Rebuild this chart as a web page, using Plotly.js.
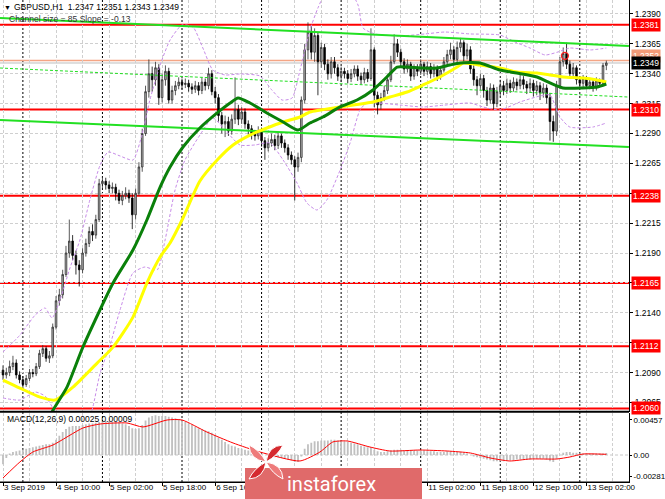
<!DOCTYPE html>
<html><head><meta charset="utf-8">
<script src="https://cdn.plot.ly/plotly-3.0.1.min.js"></script>
<style>html,body{margin:0;padding:0;background:#fff;overflow:hidden}#chart{width:665px;height:499px}</style>
</head><body><div id="chart"></div>
<script>
// ---------- DATA ----------
const barOpen = [1.2092,1.2088,1.2090,1.2095,1.2098,1.2088,1.2084,1.2080,1.2085,1.2090,
1.2089,1.2095,1.2106,1.2110,1.2102,1.2104,1.2128,1.2150,1.2155,1.2172,
1.2190,1.2200,1.2188,1.2180,1.2176,1.2190,1.2198,1.2208,1.2205,1.2218,
1.2248,1.2250,1.2247,1.2244,1.2245,1.2240,1.2234,1.2238,1.2240,1.2236,
1.2222,1.2240,1.2262,1.2290,1.2325,1.2340,1.2335,1.2345,1.2320,1.2335,
1.2342,1.2318,1.2326,1.2330,1.2333,1.2331,1.2332,1.2329,1.2327,1.2330,
1.2326,1.2333,1.2330,1.2340,1.2325,1.2320,1.2305,1.2298,1.2300,1.2292,
1.2302,1.2310,1.2302,1.2308,1.2298,1.2294,1.2290,1.2288,1.2292,1.2284,
1.2278,1.2282,1.2285,1.2280,1.2288,1.2282,1.2278,1.2272,1.2268,1.2262,
1.2270,1.2318,1.2360,1.2375,1.2358,1.2372,1.2350,1.2362,1.2348,1.2340,
1.2350,1.2345,1.2338,1.2342,1.2340,1.2336,1.2340,1.2344,1.2338,1.2335,
1.2341,1.2336,1.2360,1.2322,1.2314,1.2320,1.2326,1.2335,1.2350,1.2365,
1.2358,1.2350,1.2344,1.2348,1.2338,1.2345,1.2342,1.2348,1.2342,1.2346,
1.2340,1.2344,1.2338,1.2343,1.2350,1.2356,1.2360,1.2352,1.2362,1.2366,
1.2355,1.2360,1.2344,1.2335,1.2330,1.2336,1.2326,1.2318,1.2328,1.2315,
1.2325,1.2330,1.2326,1.2332,1.2328,1.2333,1.2330,1.2335,1.2331,1.2328,
1.2332,1.2326,1.2330,1.2324,1.2328,1.2320,1.2300,1.2292,1.2330,1.2350,
1.2357,1.2348,1.2340,1.2345,1.2335,1.2332,1.2336,1.2330,1.2333,1.2328,
1.2334,1.2332,1.2347];
const barHigh = [1.2096,1.2094,1.2100,1.2104,1.2101,1.2091,1.2087,1.2088,1.2093,1.2093,
1.2098,1.2109,1.2113,1.2112,1.2108,1.2131,1.2154,1.2160,1.2176,1.2196,
1.2218,1.2205,1.2192,1.2184,1.2194,1.2202,1.2212,1.2214,1.2222,1.2252,
1.2254,1.2253,1.2250,1.2249,1.2248,1.2243,1.2242,1.2245,1.2243,1.2240,
1.2244,1.2266,1.2294,1.2330,1.2352,1.2346,1.2350,1.2348,1.2340,1.2347,
1.2345,1.2330,1.2334,1.2337,1.2336,1.2336,1.2335,1.2332,1.2334,1.2333,
1.2337,1.2336,1.2345,1.2343,1.2329,1.2323,1.2308,1.2305,1.2304,1.2306,
1.2337,1.2314,1.2312,1.2311,1.2301,1.2297,1.2293,1.2296,1.2295,1.2287,
1.2286,1.2290,1.2289,1.2291,1.2290,1.2285,1.2281,1.2275,1.2271,1.2274,
1.2321,1.2365,1.2383,1.2380,1.2378,1.2375,1.2366,1.2365,1.2352,1.2354,
1.2354,1.2348,1.2346,1.2345,1.2343,1.2344,1.2347,1.2347,1.2341,1.2345,
1.2344,1.2378,1.2362,1.2325,1.2324,1.2330,1.2339,1.2355,1.2373,1.2369,
1.2361,1.2353,1.2352,1.2350,1.2348,1.2348,1.2352,1.2350,1.2350,1.2349,
1.2348,1.2347,1.2346,1.2354,1.2360,1.2366,1.2363,1.2367,1.2370,1.2368,
1.2365,1.2363,1.2347,1.2338,1.2340,1.2339,1.2329,1.2332,1.2331,1.2329,
1.2335,1.2334,1.2336,1.2335,1.2337,1.2336,1.2339,1.2338,1.2334,1.2336,
1.2335,1.2334,1.2333,1.2332,1.2331,1.2324,1.2305,1.2334,1.2354,1.2362,
1.2366,1.2351,1.2349,1.2347,1.2338,1.2339,1.2338,1.2336,1.2335,1.2337,
1.2336,1.2349,1.2351];
const barLow = [1.2084,1.2085,1.2087,1.2092,1.2085,1.2081,1.2076,1.2078,1.2083,1.2086,
1.2087,1.2093,1.2103,1.2099,1.2098,1.2102,1.2126,1.2146,1.2152,1.2170,
1.2186,1.2184,1.2172,1.2162,1.2173,1.2187,1.2195,1.2200,1.2202,1.2216,
1.2244,1.2243,1.2240,1.2240,1.2234,1.2231,1.2230,1.2235,1.2232,1.2210,
1.2218,1.2238,1.2258,1.2288,1.2320,1.2325,1.2330,1.2314,1.2316,1.2330,
1.2315,1.2315,1.2322,1.2327,1.2327,1.2328,1.2325,1.2323,1.2324,1.2322,
1.2323,1.2326,1.2327,1.2322,1.2315,1.2300,1.2290,1.2287,1.2288,1.2289,
1.2298,1.2297,1.2298,1.2294,1.2289,1.2285,1.2284,1.2285,1.2279,1.2268,
1.2275,1.2279,1.2276,1.2277,1.2278,1.2274,1.2268,1.2264,1.2234,1.2258,
1.2266,1.2315,1.2352,1.2352,1.2350,1.2322,1.2345,1.2343,1.2335,1.2336,
1.2340,1.2334,1.2333,1.2336,1.2332,1.2333,1.2337,1.2334,1.2331,1.2332,
1.2333,1.2334,1.2312,1.2306,1.2310,1.2317,1.2323,1.2333,1.2348,1.2354,
1.2346,1.2340,1.2341,1.2334,1.2335,1.2338,1.2339,1.2338,1.2339,1.2336,
1.2337,1.2334,1.2335,1.2341,1.2347,1.2352,1.2348,1.2349,1.2358,1.2350,
1.2352,1.2340,1.2330,1.2322,1.2326,1.2320,1.2313,1.2315,1.2310,1.2312,
1.2321,1.2322,1.2323,1.2324,1.2325,1.2326,1.2327,1.2327,1.2323,1.2324,
1.2321,1.2322,1.2318,1.2320,1.2315,1.2284,1.2283,1.2288,1.2327,1.2346,
1.2344,1.2336,1.2337,1.2331,1.2328,1.2329,1.2327,1.2327,1.2325,1.2326,
1.2329,1.2330,1.2343];
const barClose = [1.2088,1.2090,1.2095,1.2098,1.2088,1.2084,1.2080,1.2085,1.2090,1.2089,
1.2095,1.2106,1.2110,1.2102,1.2104,1.2128,1.2150,1.2155,1.2172,1.2190,
1.2200,1.2188,1.2180,1.2176,1.2190,1.2198,1.2208,1.2205,1.2218,1.2248,
1.2250,1.2247,1.2244,1.2245,1.2240,1.2234,1.2238,1.2240,1.2236,1.2222,
1.2240,1.2262,1.2290,1.2325,1.2340,1.2335,1.2345,1.2320,1.2335,1.2342,
1.2318,1.2326,1.2330,1.2333,1.2331,1.2332,1.2329,1.2327,1.2330,1.2326,
1.2333,1.2330,1.2340,1.2325,1.2320,1.2305,1.2298,1.2300,1.2292,1.2302,
1.2310,1.2302,1.2308,1.2298,1.2294,1.2290,1.2288,1.2292,1.2284,1.2278,
1.2282,1.2285,1.2280,1.2288,1.2282,1.2278,1.2272,1.2268,1.2262,1.2270,
1.2318,1.2360,1.2375,1.2358,1.2372,1.2350,1.2362,1.2348,1.2340,1.2350,
1.2345,1.2338,1.2342,1.2340,1.2336,1.2340,1.2344,1.2338,1.2335,1.2341,
1.2336,1.2360,1.2322,1.2314,1.2320,1.2326,1.2335,1.2350,1.2365,1.2358,
1.2350,1.2344,1.2348,1.2338,1.2345,1.2342,1.2348,1.2342,1.2346,1.2340,
1.2344,1.2338,1.2343,1.2350,1.2356,1.2360,1.2352,1.2362,1.2366,1.2355,
1.2360,1.2344,1.2335,1.2330,1.2336,1.2326,1.2318,1.2328,1.2315,1.2325,
1.2330,1.2326,1.2332,1.2328,1.2333,1.2330,1.2335,1.2331,1.2328,1.2332,
1.2326,1.2330,1.2324,1.2328,1.2320,1.2300,1.2292,1.2330,1.2350,1.2357,
1.2348,1.2340,1.2345,1.2335,1.2332,1.2336,1.2330,1.2333,1.2328,1.2334,
1.2332,1.2347,1.2349];
const macdHist = [-0.0012,-0.0004,0.0002,0.0004,0.0005,0.0006,0.0007,0.0008,0.0009,0.0010,
0.0011,0.0012,0.0013,0.0014,0.0014,0.0016,0.0020,0.0025,0.0030,0.0034,
0.0037,0.0038,0.0038,0.0038,0.0039,0.0040,0.0041,0.0041,0.0042,0.0043,
0.0044,0.0044,0.0044,0.0043,0.0043,0.0042,0.0041,0.0040,0.0038,0.0035,
0.0034,0.0035,0.0039,0.0045,0.0049,0.0051,0.0052,0.0051,0.0051,0.0051,
0.0050,0.0049,0.0048,0.0047,0.0045,0.0043,0.0041,0.0039,0.0037,0.0035,
0.0034,0.0032,0.0031,0.0029,0.0026,0.0023,0.0020,0.0017,0.0014,0.0012,
0.0011,0.0009,0.0008,0.0007,0.0006,0.0005,0.0004,0.0003,0.0002,0.0000,
-0.0001,-0.0002,-0.0003,-0.0003,-0.0004,-0.0005,-0.0006,-0.0007,-0.0009,-0.0009,
-0.0002,0.0008,0.0014,0.0016,0.0018,0.0018,0.0019,0.0019,0.0019,0.0020,
0.0020,0.0019,0.0019,0.0018,0.0017,0.0016,0.0015,0.0014,0.0012,0.0011,
0.0010,0.0010,0.0007,0.0005,0.0004,0.0004,0.0005,0.0006,0.0007,0.0007,
0.0007,0.0006,0.0006,0.0006,0.0006,0.0006,0.0006,0.0006,0.0005,0.0005,
0.0005,0.0004,0.0004,0.0004,0.0005,0.0005,0.0004,0.0004,0.0004,0.0003,
0.0002,0.0000,-0.0002,-0.0003,-0.0004,-0.0005,-0.0006,-0.0007,-0.0008,-0.0008,
-0.0008,-0.0008,-0.0007,-0.0007,-0.0007,-0.0006,-0.0006,-0.0006,-0.0006,-0.0006,
-0.0005,-0.0005,-0.0005,-0.0005,-0.0006,-0.0008,-0.0009,-0.0005,0.0000,0.0003,
0.0004,0.0004,0.0003,0.0003,0.0002,0.0002,0.0002,0.0002,0.0002,0.0002,
0.0002,0.0002,0.00025];
const signalIdx = [0,5.1,9,15.1,24.1,29.3,37.4,42.2,49.5,54,61.5,69.4,77.5,89.6,95.6,99.5,103.8,110.7,116.7,125.8,134,141,147,152.9,159,167.1,171,175,182];
const signalVal = [-0.0030,-0.00091,0.00039,0.00131,0.00352,0.00405,0.00418,0.00366,0.00457,0.00457,0.00300,0.00157,0.00039,-0.00078,0.00039,0.00170,0.00183,0.00104,0.00052,0.00065,0.00052,0.00026,-0.00039,-0.00078,-0.00052,-0.00052,-0.00026,0.00013,0.00009];
const greenIdx = [13,15.1,19.3,24.1,33.2,39.2,43.4,47.4,50.4,54.3,59.4,64.6,68.5,70.9,74.5,79.6,84.5,89,92.6,96.5,101.7,106.8,111.6,115.8,118.9,121.9,126.7,130.9,134.8,137.9,143.9,149.9,155,161.1,165,168.9,174.9,179.2,182];
const greenVal = [1.20460,1.20586,1.20778,1.21113,1.21649,1.21925,1.22176,1.22452,1.22620,1.22787,1.22946,1.23072,1.23155,1.23197,1.23155,1.23072,1.22996,1.22929,1.22988,1.23038,1.23122,1.23180,1.23264,1.23373,1.23456,1.23456,1.23448,1.23448,1.23473,1.23490,1.23490,1.23431,1.23406,1.23373,1.23323,1.23281,1.23281,1.23289,1.23314];
const yellowIdx = [0,5.1,11.2,15.7,21.1,28.4,33.2,39.2,43.4,47.4,50.4,54.3,59.4,64.6,69.4,74.5,79.6,84.5,89.6,92.6,101.7,111.6,116.7,121.9,126.7,131.8,137,138.8,143.9,149.9,155,161.1,165,168.9,174.9,179.2,182];
const yellowVal = [1.20837,1.20770,1.20694,1.20670,1.20778,1.20979,1.21113,1.21364,1.21649,1.21866,1.21984,1.22193,1.22502,1.22678,1.22804,1.22887,1.22946,1.22996,1.23038,1.23080,1.23122,1.23164,1.23205,1.23247,1.23306,1.23373,1.23456,1.23490,1.23473,1.23448,1.23415,1.23406,1.23390,1.23373,1.23364,1.23348,1.23331];
const bandUpIdx = [0,5.1,9.7,12.7,14.8,17.2,20.2,23.2,26.2,29.3,31.7,35.3,39.2,41.9,44.3,47.4,50.4,54,57.3,60.3,63.3,67,71.5,77.5,81.1,84.2,87.2,89.6,92.6,95,97.1,104.7,107.1,108.6,112.2,119.8,127.3,133.3,140.9,149.9,154.4,159,163.5,167.4,171,177.1,182];
const bandUpVal = [1.21072,1.21213,1.21381,1.21440,1.21356,1.21507,1.21775,1.22009,1.22344,1.22636,1.22745,1.22712,1.22678,1.22887,1.23180,1.23473,1.23682,1.23808,1.23791,1.23615,1.23431,1.23390,1.23398,1.23381,1.23264,1.23180,1.23197,1.23431,1.23766,1.23950,1.24059,1.24084,1.23975,1.23783,1.23733,1.23716,1.23733,1.23749,1.23733,1.23724,1.23666,1.23615,1.23557,1.23582,1.23615,1.23599,1.23615];
const bandLoIdx = [0,5.1,9.7,12.7,15.7,20.2,24.8,27.1,29.3,32.3,35.3,39.2,42.8,46.5,48.9,51.9,54.9,59.4,63.3,67,71.5,76,80.5,84.5,88.7,91.7,94.7,97.7,101.7,104.7,107.7,109.8,119.8,126.7,133.3,140.9,144.8,149.9,156,162,165,168,171,177.9,182];
const bandLoVal = [1.20687,1.20670,1.20737,1.20703,1.20570,1.20335,1.20418,1.20611,1.20896,1.21130,1.21423,1.21733,1.21783,1.21758,1.22009,1.22427,1.22678,1.22887,1.23030,1.22929,1.22804,1.22804,1.22821,1.22678,1.22486,1.22318,1.22260,1.22344,1.22595,1.22821,1.23097,1.23155,1.23138,1.23122,1.23138,1.23155,1.23122,1.23097,1.23164,1.23214,1.23222,1.23038,1.22954,1.22954,1.22988];
const channelIdx = [-0.9, 188.8];
const channelUpper = [1.23867, 1.23632];
const channelMiddle = [1.23448, 1.23205];
const channelLower = [1.23013, 1.22787];
const levelPrices = [1.2381, 1.2310, 1.2238, 1.2165, 1.2112, 1.2060];
const askPrice = 1.2352;
const bidPrice = 1.2349;
const alertIdx = [169.5];
const alertPrice = [1.2355];
const priceTicks = [1.2065,1.2090,1.2115,1.2140,1.2165,1.2190,1.2215,1.2240,1.2265,1.2290,1.2315,1.2340,1.2365,1.2390];
const priceTickText = ['1.2065','1.2090','','1.2140','','1.2190','1.2215','','1.2265','1.2290','1.2315','1.2340','1.2365','1.2390'];
const macdTicks = [0.00457, 0, -0.00281];
const macdTickText = ['0.00457', '0.00', '-0.00281'];
const timeTickIdx = [0,16,32,48,64,80,96,112,128,144,160,176];
const timeTickText = ['3 Sep 2019','4 Sep 10:00','5 Sep 02:00','5 Sep 18:00','6 Sep 10:00','','','','11 Sep 02:00','11 Sep 18:00','12 Sep 10:00','13 Sep 02:00'];
const daySeparators = [6,30,54,78,102,126,150,174];
const titleText = 'GBPUSD,H1  1.2347 1.2351 1.2343 1.2349';
const channelText = 'Channel size = 85 Slope = -0.13';
const macdText = 'MACD(12,26,9) 0.00025 0.00009';
const brandText = 'instaforex';

// ---------- LAYOUT ----------
const W = 665, H = 499;
const px = x => x / W;
const py = y => 1 - y / H;
const plotRight = px(629);
const mainDom = [py(411.5), 1];
const macdDom = [py(482), py(412.5)];
const FONT = 'Liberation Sans, Arial, sans-serif';
const barIdx = barClose.map((_, i) => i);

const traces = [
  {type:'scatter', mode:'lines', x:bandUpIdx, y:bandUpVal, xaxis:'x', yaxis:'y',
   line:{color:'#c78ce8', width:1, dash:'3px,2px', shape:'spline', smoothing:0.6}, hoverinfo:'skip'},
  {type:'scatter', mode:'lines', x:bandLoIdx, y:bandLoVal, xaxis:'x', yaxis:'y',
   line:{color:'#c78ce8', width:1, dash:'3px,2px', shape:'spline', smoothing:0.6}, hoverinfo:'skip'},
  {type:'scatter', mode:'lines', x:channelIdx, y:channelUpper, line:{color:'#22e022', width:2}, hoverinfo:'skip'},
  {type:'scatter', mode:'lines', x:channelIdx, y:channelMiddle, line:{color:'#22e022', width:1, dash:'3px,2px'}, hoverinfo:'skip'},
  {type:'scatter', mode:'lines', x:channelIdx, y:channelLower, line:{color:'#22e022', width:2}, hoverinfo:'skip'},
  {type:'candlestick', x:barIdx, open:barOpen, high:barHigh, low:barLow, close:barClose, xaxis:'x', yaxis:'y',
   increasing:{line:{color:'#303030', width:0.8}, fillcolor:'#b4b4b4'},
   decreasing:{line:{color:'#000000', width:0.8}, fillcolor:'#000000'},
   whiskerwidth:0, hoverinfo:'skip'},
  {type:'scatter', mode:'lines', x:yellowIdx, y:yellowVal, line:{color:'#ffff00', width:3, shape:'spline', smoothing:0.6}, hoverinfo:'skip'},
  {type:'scatter', mode:'lines', x:greenIdx, y:greenVal, line:{color:'#0a800a', width:3, shape:'spline', smoothing:0.6}, hoverinfo:'skip'},
  {type:'scatter', mode:'markers', x:alertIdx, y:alertPrice, marker:{symbol:'circle-open', size:7, color:'#ff2020', line:{width:1.3}}, hoverinfo:'skip'},
  {type:'bar', x:barIdx, y:macdHist, xaxis:'x', yaxis:'y2', width:0.55, marker:{color:'#c0c0c0', line:{width:0}}, hoverinfo:'skip'},
  {type:'scatter', mode:'lines', x:signalIdx, y:signalVal, xaxis:'x', yaxis:'y2',
   line:{color:'#ff0000', width:1, shape:'spline', smoothing:0.6}, hoverinfo:'skip'}
];

const shapes = [];
daySeparators.forEach(d => shapes.push({type:'line', xref:'x', yref:'paper', x0:d, x1:d, y0:macdDom[0], y1:1,
  line:{color:'#000', width:1, dash:'2px,2px'}, layer:'between'}));
shapes.push({type:'line', xref:'paper', yref:'y', x0:0, x1:plotRight, y0:askPrice-0.0001, y1:askPrice-0.0001, line:{color:'#f4a585', width:1.5}, layer:'between'});
shapes.push({type:'line', xref:'paper', yref:'y', x0:0, x1:plotRight, y0:bidPrice, y1:bidPrice, line:{color:'#bdbdbd', width:1}, layer:'between'});
levelPrices.forEach(l => shapes.push({type:'line', xref:'paper', yref:'y', x0:0, x1:plotRight, y0:l, y1:l,
  line:{color:'#ff0000', width:2}, layer:'between'}));
shapes.push({type:'line', xref:'paper', yref:'y2', x0:0, x1:plotRight, y0:0, y1:0, line:{color:'#c8c8c8', width:1, dash:'3px,2px'}, layer:'between'});
// panel frames
shapes.push({type:'line', xref:'paper', yref:'paper', x0:0, x1:plotRight, y0:py(411.8), y1:py(411.8), line:{color:'#000', width:2}, layer:'above'});
shapes.push({type:'line', xref:'paper', yref:'paper', x0:0, x1:plotRight, y0:macdDom[0], y1:macdDom[0], line:{color:'#000', width:1}, layer:'above'});
// watermark box
shapes.push({type:'rect', xref:'paper', yref:'paper', x0:px(245), x1:px(422), y0:0, y1:py(468),
  fillcolor:'#e06a6a', line:{width:0}, layer:'above'});
// logo (pinwheel)
function petal(cx, cy, ang, len, wid) {
  const a = ang * Math.PI / 180;
  const tx = cx + len * Math.cos(a), ty = cy - len * Math.sin(a);
  const mx = cx + 0.55 * len * Math.cos(a), my = cy - 0.55 * len * Math.sin(a);
  const nx = -Math.sin(a) * wid, ny = -Math.cos(a) * wid;
  const P = (x, y) => px(x).toFixed(5) + ',' + py(y).toFixed(5);
  return 'M' + P(cx, cy) + ' Q' + P(mx + nx, my + ny) + ' ' + P(tx, ty) + ' Q' + P(mx - nx * 0.4, my - ny * 0.4) + ' ' + P(cx, cy) + ' Z';
}
[[45,'#d52a2f'],[135,'#ee7b7b'],[225,'#d52a2f'],[315,'#ee7b7b']].forEach(([ang, col]) =>
  shapes.push({type:'path', xref:'paper', yref:'paper', path:petal(266, 462, ang, 24, 10),
    fillcolor:col, line:{color:'#ffffff', width:1}, layer:'above'}));

const annotations = [];
const txt = (x, y, text, size, color) => ({xref:'paper', yref:'paper', x:px(x), y:py(y),
  xanchor:'left', yanchor:'middle', text:text, showarrow:false, font:{family:FONT, size:size, color:color}});
annotations.push(txt(2, 7, '▼', 7, '#000'));
annotations.push(txt(12, 7, titleText, 8.5, '#000'));
annotations.push(txt(7, 19, channelText, 8.5, '#333'));
annotations.push(txt(5, 419, macdText, 8.5, '#000'));
levelPrices.forEach(l => annotations.push({xref:'paper', yref:'y', x:px(631), y:l, xanchor:'left', yanchor:'middle',
  text:l.toFixed(4), showarrow:false, bgcolor:'#ff0000', borderpad:1, font:{family:FONT, size:8.5, color:'#ffffff'}}));
annotations.push({xref:'paper', yref:'y', x:px(631), y:askPrice + 0.00025, xanchor:'left', yanchor:'middle',
  text:askPrice.toFixed(4), showarrow:false, bgcolor:'#f29a78', borderpad:1, font:{family:FONT, size:8.5, color:'#ffffff'}});
annotations.push({xref:'paper', yref:'y', x:px(631), y:bidPrice, xanchor:'left', yanchor:'middle',
  text:bidPrice.toFixed(4), showarrow:false, bgcolor:'#000000', borderpad:1, font:{family:FONT, size:8.5, color:'#ffffff'}});
annotations.push({xref:'paper', yref:'paper', x:px(331), y:py(484), xanchor:'center', yanchor:'middle',
  text:brandText, showarrow:false, font:{family:'Roboto, sans-serif', size:20, color:'#ffffff'}});

const tickFont = {family:FONT, size:8.5, color:'#000'};
const timeFont = {family:FONT, size:8, color:'#000'};
const macdFont = {family:FONT, size:8, color:'#000'};
const layout = {
  width:W, height:H, margin:{l:0, r:0, t:0, b:0},
  paper_bgcolor:'#ffffff', plot_bgcolor:'#ffffff', showlegend:false, hovermode:false, dragmode:false,
  xaxis:{domain:[0, plotRight], range:[-0.905, 188.84], anchor:'y2', fixedrange:true,
    tickmode:'array', tickvals:timeTickIdx, ticktext:timeTickText, tickangle:0, ticks:'outside', ticklen:3, tickcolor:'#000',
    tickfont:timeFont, ticklabelposition:'outside right', ticklabelstandoff:-3,
    showgrid:true, gridcolor:'#cfcfcf', griddash:'3px,2px', gridwidth:1,
    minor:{tick0:0, dtick:8, showgrid:true, gridcolor:'#cfcfcf', griddash:'3px,2px', ticks:''},
    showline:true, linecolor:'#000', zeroline:false, rangeslider:{visible:false}},
  yaxis:{domain:mainDom, range:[1.20574, 1.24017], anchor:'x', side:'right', fixedrange:true,
    tickmode:'array', tickvals:priceTicks, ticktext:priceTickText,
    ticks:'outside', ticklen:3, tickcolor:'#000', tickfont:tickFont,
    showgrid:true, gridcolor:'#cfcfcf', griddash:'3px,2px', showline:true, linecolor:'#000', mirror:true, zeroline:false},
  yaxis2:{domain:macdDom, range:[-0.003525, 0.005548], anchor:'x', side:'right', fixedrange:true,
    tickmode:'array', tickvals:macdTicks, ticktext:macdTickText,
    ticks:'outside', ticklen:2, tickcolor:'#000', tickfont:macdFont,
    showgrid:false, showline:true, linecolor:'#000', mirror:true, zeroline:false},
  shapes:shapes, annotations:annotations
};
Plotly.newPlot('chart', traces, layout, {displayModeBar:false, staticPlot:true});
</script>
</body></html>
